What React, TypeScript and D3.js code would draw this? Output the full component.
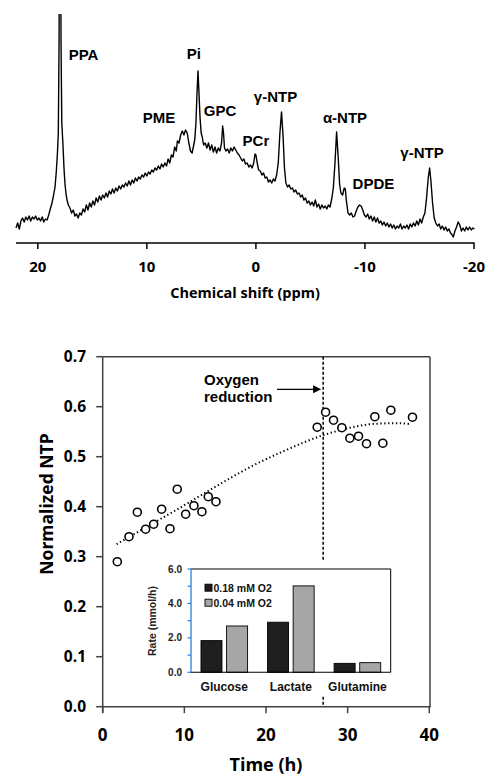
import React from 'react';
import * as d3 from 'd3';

// ---------- Spectrum data (ppm, intensity) ----------
const spectrum: [number, number][] = [
  [22.0, 15], [21.85, 20], [21.7, 14], [21.55, 22], [21.4, 25], [21.25, 21], [21.1, 26], [20.95, 23],
  [20.8, 27], [20.65, 22], [20.5, 26], [20.35, 24], [20.2, 27], [20.05, 23], [19.9, 25], [19.75, 22],
  [19.6, 26], [19.45, 21], [19.3, 24], [19.15, 23], [19.0, 28], [18.88, 33], [18.7, 40], [18.55, 48],
  [18.42, 56], [18.3, 72], [18.2, 90], [18.12, 110], [18.05, 200], [18.0, 400], [17.93, 400], [17.87, 200],
  [17.8, 120], [17.7, 100], [17.6, 75], [17.5, 58], [17.4, 48], [17.32, 43], [17.2, 38], [17.05, 35],
  [16.9, 30], [16.75, 33], [16.6, 27], [16.45, 29], [16.3, 25], [16.15, 30], [16.0, 28], [15.85, 34],
  [15.7, 31], [15.55, 38], [15.4, 33], [15.25, 40], [15.1, 36], [14.95, 42], [14.8, 38], [14.65, 45],
  [14.5, 41], [14.35, 47], [14.2, 43], [14.05, 48], [13.9, 45], [13.75, 50], [13.6, 46], [13.45, 52],
  [13.3, 49], [13.15, 54], [13.0, 50], [12.85, 55], [12.7, 52], [12.55, 57], [12.4, 54], [12.25, 58],
  [12.1, 56], [11.95, 60], [11.8, 57], [11.65, 62], [11.5, 58], [11.35, 63], [11.2, 60], [11.05, 65],
  [10.9, 62], [10.75, 66], [10.6, 64], [10.45, 68], [10.3, 66], [10.15, 70], [10.0, 67], [9.85, 71],
  [9.7, 69], [9.55, 73], [9.4, 71], [9.25, 75], [9.1, 73], [8.95, 77], [8.8, 74], [8.65, 79],
  [8.5, 76], [8.35, 80], [8.2, 77], [8.05, 84], [7.9, 80], [7.75, 88], [7.6, 86], [7.45, 96],
  [7.3, 92], [7.2, 102], [7.05, 100], [6.9, 108], [6.75, 112], [6.6, 108], [6.45, 113], [6.3, 110],
  [6.15, 100], [6.0, 92], [5.85, 90], [5.7, 98], [5.6, 104], [5.5, 120], [5.4, 150], [5.31, 172],
  [5.22, 150], [5.12, 125], [5.02, 110], [4.92, 106], [4.8, 98], [4.65, 100], [4.5, 95], [4.35, 100],
  [4.2, 93], [4.05, 98], [3.9, 91], [3.75, 96], [3.6, 90], [3.45, 95], [3.3, 92], [3.15, 100],
  [3.05, 117], [2.97, 110], [2.88, 95], [2.75, 92], [2.6, 94], [2.45, 90], [2.3, 95], [2.15, 92],
  [2.0, 96], [1.85, 93], [1.7, 90], [1.55, 88], [1.4, 85], [1.25, 82], [1.1, 84], [0.95, 79],
  [0.8, 80], [0.65, 76], [0.5, 78], [0.35, 75], [0.2, 80], [0.08, 89], [0.0, 88], [-0.12, 80],
  [-0.25, 73], [-0.4, 72], [-0.55, 68], [-0.7, 70], [-0.85, 65], [-1.0, 66], [-1.15, 61], [-1.3, 63],
  [-1.45, 60], [-1.6, 64], [-1.75, 62], [-1.9, 68], [-2.05, 80], [-2.2, 110], [-2.35, 131], [-2.5, 105],
  [-2.62, 75], [-2.75, 60], [-2.9, 56], [-3.05, 58], [-3.2, 54], [-3.35, 55], [-3.5, 51], [-3.65, 53],
  [-3.8, 49], [-3.95, 50], [-4.1, 46], [-4.25, 48], [-4.4, 43], [-4.55, 45], [-4.7, 40], [-4.85, 42],
  [-5.0, 38], [-5.15, 41], [-5.3, 37], [-5.45, 43], [-5.6, 36], [-5.75, 39], [-5.9, 34], [-6.05, 38],
  [-6.2, 35], [-6.35, 37], [-6.5, 34], [-6.65, 38], [-6.8, 36], [-6.95, 44], [-7.1, 55], [-7.25, 80],
  [-7.4, 111], [-7.55, 85], [-7.68, 58], [-7.8, 50], [-7.95, 48], [-8.1, 55], [-8.2, 54], [-8.3, 42],
  [-8.45, 30], [-8.6, 28], [-8.75, 30], [-8.9, 26], [-9.05, 27], [-9.2, 32], [-9.35, 36], [-9.5, 38],
  [-9.65, 37], [-9.8, 33], [-9.95, 28], [-10.1, 26], [-10.25, 29], [-10.4, 24], [-10.55, 27], [-10.7, 22],
  [-10.85, 26], [-11.0, 21], [-11.15, 25], [-11.3, 20], [-11.45, 22], [-11.6, 18], [-11.75, 21], [-11.9, 17],
  [-12.05, 20], [-12.2, 16], [-12.35, 19], [-12.5, 15], [-12.65, 18], [-12.8, 14], [-12.95, 17], [-13.1, 15],
  [-13.25, 19], [-13.4, 14], [-13.55, 17], [-13.7, 15], [-13.85, 18], [-14.0, 14], [-14.15, 19], [-14.3, 16],
  [-14.45, 20], [-14.6, 17], [-14.75, 22], [-14.9, 18], [-15.05, 24], [-15.2, 20], [-15.35, 26], [-15.5, 30],
  [-15.65, 45], [-15.8, 65], [-15.93, 75], [-16.05, 62], [-16.2, 40], [-16.35, 25], [-16.5, 20], [-16.65, 17],
  [-16.8, 19], [-16.95, 14], [-17.1, 17], [-17.25, 13], [-17.4, 16], [-17.55, 12], [-17.7, 14], [-17.85, 10],
  [-18.0, 8], [-18.1, 6], [-18.25, 12], [-18.4, 16], [-18.55, 21], [-18.7, 18], [-18.85, 12], [-19.0, 15],
  [-19.15, 12], [-19.3, 16], [-19.45, 13], [-19.6, 16], [-19.75, 13], [-19.9, 15], [-20.05, 14],
];
const spectrumTicks = [20, 10, 0, -10, -20];
const peakNames = ['PPA', 'Pi', 'PME', 'GPC', 'PCr', 'γ-NTP', 'α-NTP', 'DPDE', 'γ-NTP'];
const peakPpm = [15.81, 5.68, 8.89, 3.29, 0.0, -1.8, -8.17, -10.78, -15.23];
const peakLabelLevel = [183, 184, 120, 127, 97, 141, 120, 54, 85];

// ---------- NTP time course ----------
const timeH = [1.79, 3.22, 4.24, 5.26, 6.24, 7.22, 8.24, 9.13, 10.16, 11.17, 12.15, 12.93, 13.87,
  26.27, 27.3, 28.27, 29.29, 30.27, 31.33, 32.31, 33.33, 34.31, 35.29, 37.94];
const ntp = [0.29, 0.34, 0.389, 0.355, 0.365, 0.395, 0.356, 0.435, 0.385, 0.402, 0.39, 0.42, 0.41,
  0.559, 0.589, 0.573, 0.558, 0.537, 0.541, 0.526, 0.58, 0.527, 0.593, 0.579];
const trendT = [1.7, 5, 10, 13.5, 18.5, 22, 27, 30.3, 33.5, 36, 37.8];
const trendV = [0.325, 0.356, 0.403, 0.437, 0.483, 0.51, 0.543, 0.558, 0.566, 0.567, 0.565];
const oxygenT = 27;
const timeTicks = [0, 10, 20, 30, 40];
const ntpTicks = [0, 0.1, 0.2, 0.3, 0.4, 0.5, 0.6, 0.7];

// ---------- Inset bars ----------
const metabolites = ['Glucose', 'Lactate', 'Glutamine'];
const series = ['0.18 mM O2', '0.04 mM O2'];
const rateHigh = [1.84, 2.91, 0.52];
const rateLow = [2.69, 5.02, 0.56];
const rateTicks = [0, 2, 4, 6];
const rateMinor = [1, 3, 5];

const BOLD_SANS = "'Liberation Sans', Arial, sans-serif";
const OPEN = "'Open Sans', sans-serif";

export default function App() {
  // Spectrum scales
  const xs = d3.scaleLinear().domain([22, -20]).range([16, 474]);
  const ys = d3.scaleLinear().domain([0, 230]).range([243, 13]);
  const specLine = d3.line<[number, number]>().x(d => xs(d[0])).y(d => ys(d[1]));

  // Time-course scales
  const xt = d3.scaleLinear().domain([0, 40]).range([102.7, 429.3]);
  const yt = d3.scaleLinear().domain([0, 0.7]).range([706.7, 356.7]);
  const trendLine = d3.line<number>().x((_, i) => xt(trendT[i])).y(d => yt(d)).curve(d3.curveMonotoneX);

  // Inset scales
  const xb = d3.scaleBand<string>().domain(metabolites).range([191, 390.7]);
  const xInner = d3.scaleBand<string>().domain(series).range([0, xb.bandwidth()]).paddingInner(0.18).paddingOuter(0.39);
  const yb = d3.scaleLinear().domain([0, 6]).range([672.3, 569]);
  const seriesValues = [rateHigh, rateLow];
  const seriesColors = ['#1e1e1e', '#a6a6a6'];

  const xO = xt(oxygenT);

  return (
    <svg width={487} height={776} style={{ position: 'absolute', left: 0, top: 0, background: '#fff' }}>
      <defs>
        <clipPath id="specClip">
          <rect x={0} y={14} width={487} height={229} />
        </clipPath>
      </defs>
      <rect x={0} y={0} width={487} height={776} fill="#fff" />

      {/* ---------- Spectrum ---------- */}
      <path d={specLine(spectrum) || ''} fill="none" stroke="#000" strokeWidth={1.4} strokeLinejoin="round" clipPath="url(#specClip)" />
      <line x1={16} x2={474.5} y1={243} y2={243} stroke="#000" strokeWidth={1.5} />
      {spectrumTicks.map(t => (
        <g key={t}>
          <line x1={xs(t)} x2={xs(t)} y1={243} y2={249} stroke="#000" strokeWidth={1.5} />
          <text x={xs(t)} y={272} textAnchor="middle" fontFamily={OPEN} fontWeight="bold" fontSize={15} fill="#000">{t}</text>
        </g>
      ))}
      <text x={245} y={298} textAnchor="middle" fontFamily={OPEN} fontWeight="bold" fontSize={14.5} fill="#000">Chemical shift (ppm)</text>
      {peakNames.map((n, i) => (
        <text key={i} x={xs(peakPpm[i])} y={ys(peakLabelLevel[i])} textAnchor="middle" fontFamily={BOLD_SANS} fontWeight="bold" fontSize={15} fill="#000">{n}</text>
      ))}

      {/* ---------- Time course ---------- */}
      <line x1={xt(0)} x2={xt(40) + 0.7} y1={yt(0.7)} y2={yt(0.7)} stroke="#404040" strokeWidth={1.5} />
      <line x1={xt(40) + 0.7} x2={xt(40) + 0.7} y1={yt(0.7)} y2={yt(0)} stroke="#404040" strokeWidth={1.5} />
      <line x1={xO} x2={xO} y1={yt(0.7)} y2={yt(0)} stroke="#000" strokeWidth={1.5} strokeDasharray="3,2" />
      <path d={trendLine(trendV) || ''} fill="none" stroke="#000" strokeWidth={2} strokeDasharray="1.3,2.6" />
      {timeH.map((t, i) => (
        <circle key={i} cx={xt(t)} cy={yt(ntp[i])} r={4} fill="#fff" stroke="#000" strokeWidth={1.6} />
      ))}
      <text fontFamily={BOLD_SANS} fontWeight="bold" fontSize={15} fill="#000">
        <tspan x={204} y={385}>Oxygen</tspan>
        <tspan x={204} y={402}>reduction</tspan>
      </text>
      <line x1={277} x2={315} y1={389.3} y2={389.3} stroke="#000" strokeWidth={1.2} />
      <path d={`M${xO - 2},389.3 L${xO - 10},385.3 L${xO - 10},393.3 Z`} fill="#000" />

      <line x1={xt(0)} x2={xt(0)} y1={yt(0.7)} y2={yt(0) + 6} stroke="#404040" strokeWidth={1.5} />
      <line x1={xt(0) - 0.7} x2={xt(40) + 1.4} y1={yt(0)} y2={yt(0)} stroke="#404040" strokeWidth={1.5} />
      {ntpTicks.map(v => (
        <g key={v}>
          <line x1={xt(0) - 6.5} x2={xt(0)} y1={yt(v)} y2={yt(v)} stroke="#404040" strokeWidth={1.5} />
          <text x={86} y={yt(v) + 5.5} textAnchor="end" fontFamily={OPEN} fontWeight="bold" fontSize={15.5} fill="#000">{v.toFixed(1)}</text>
        </g>
      ))}
      {timeTicks.map(t => (
        <g key={t}>
          <line x1={xt(t)} x2={xt(t)} y1={yt(0)} y2={yt(0) + 6.5} stroke="#404040" strokeWidth={1.5} />
          <text x={xt(t)} y={741} textAnchor="middle" fontFamily={OPEN} fontWeight="bold" fontSize={17} fill="#000">{t}</text>
        </g>
      ))}
      <text x={266} y={771} textAnchor="middle" fontFamily={OPEN} fontWeight="bold" fontSize={18} fill="#000">Time (h)</text>
      <text transform={`translate(52.5,504) rotate(-90)`} textAnchor="middle" fontFamily={OPEN} fontWeight="bold" fontSize={17.5} fill="#000">Normalized NTP</text>

      {/* ---------- Inset ---------- */}
      <rect x={140} y={561} width={258} height={135} fill="#fff" />
      {metabolites.map((m, i) => (
        <g key={m}>
          {series.map((s, j) => {
            const v = seriesValues[j][i];
            const x = (xb(m) || 0) + (xInner(s) || 0);
            return <rect key={s} x={x} y={yb(v)} width={xInner.bandwidth()} height={yb(0) - yb(v)} fill={seriesColors[j]} stroke="#000" strokeWidth={0.9} />;
          })}
          <text x={(xb(m) || 0) + xb.bandwidth() / 2} y={690.5} textAnchor="middle" fontFamily={BOLD_SANS} fontWeight="bold" fontSize={12} fill="#111">{m}</text>
        </g>
      ))}
      <line x1={191} x2={390.7} y1={yb(6)} y2={yb(6)} stroke="#000" strokeWidth={1} />
      <line x1={390.7} x2={390.7} y1={yb(6)} y2={yb(0)} stroke="#000" strokeWidth={1} />
      <line x1={191} x2={390.7} y1={yb(0)} y2={yb(0)} stroke="#000" strokeWidth={1.1} />
      <line x1={191} x2={191} y1={yb(6)} y2={yb(0)} stroke="#2f7fd8" strokeWidth={1.3} />
      {[...rateTicks, ...rateMinor].map(v => (
        <line key={v} x1={187.5} x2={191} y1={yb(v)} y2={yb(v)} stroke="#2f7fd8" strokeWidth={1.2} />
      ))}
      {rateTicks.map(v => (
        <text key={v} x={182} y={yb(v) + 3.5} textAnchor="end" fontFamily={BOLD_SANS} fontWeight="bold" fontSize={10} fill="#222">{v.toFixed(1)}</text>
      ))}
      <text transform={`translate(155.5,621) rotate(-90)`} textAnchor="middle" fontFamily={BOLD_SANS} fontWeight="bold" fontSize={10.5} fill="#222">Rate (mmol/h)</text>
      {series.map((s, j) => (
        <g key={s}>
          <rect x={205} y={584.2 + j * 15} width={7} height={7} fill={seriesColors[j]} stroke="#000" strokeWidth={0.9} />
          <text x={213.5} y={591.5 + j * 15} fontFamily={BOLD_SANS} fontWeight="bold" fontSize={10.5} fill="#111">{s}</text>
        </g>
      ))}
    </svg>
  );
}
